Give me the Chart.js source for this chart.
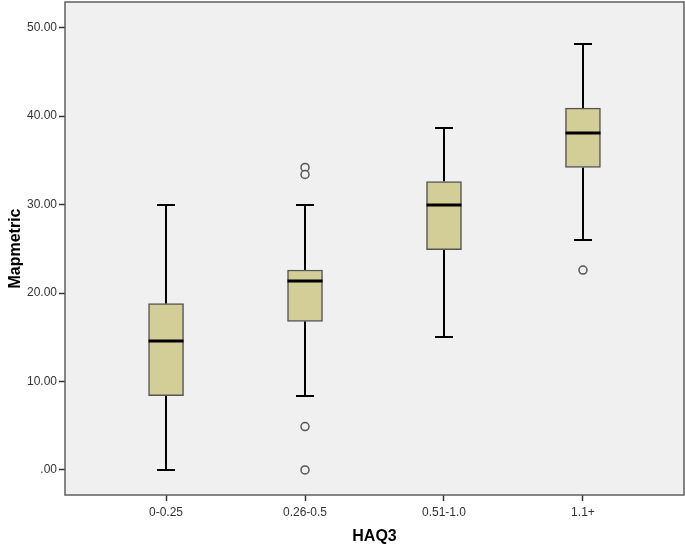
<!DOCTYPE html>
<html>
<head>
<meta charset="utf-8">
<script src="https://cdn.jsdelivr.net/npm/chart.js@4.4.0/dist/chart.umd.min.js"></script>
<style>
  html, body { margin: 0; padding: 0; background: #fff; }
  #wrap { width: 685px; height: 546px; }
</style>
</head>
<body>
<div id="wrap"><canvas id="box-chart" width="685" height="546"></canvas></div>
<script>
// Box plot data
const categories = ['0-0.25', '0.26-0.5', '0.51-1.0', '1.1+'];
const whiskerLow = [0.0, 8.4, 15.0, 26.0];
const q1 = [8.4, 16.8, 24.9, 34.2];
const median = [14.6, 21.4, 30.0, 38.1];
const q3 = [18.8, 22.6, 32.6, 40.9];
const whiskerHigh = [30.0, 30.0, 38.7, 48.2];
const outlierGroup = [1, 1, 1, 1, 3];
const outlierValue = [34.2, 33.4, 4.9, 0.0, 22.6];
const yTicks = [0, 10, 20, 30, 40, 50];

// Draws plot background/frame and the whisker + median lines
const boxPlotPlugin = {
    id: 'boxPlotPlugin',
    beforeDatasetsDraw(chart) {
        const { ctx, chartArea } = chart;
        ctx.save();
        ctx.fillStyle = '#f0f0f0';
        ctx.fillRect(chartArea.left, chartArea.top, chartArea.width, chartArea.height);
        ctx.restore();

        const x = chart.scales.x;
        const y = chart.scales.y;
        ctx.save();
        ctx.strokeStyle = '#000';
        ctx.lineWidth = 2;
        categories.forEach((c, i) => {
            const px = Math.round(x.getPixelForValue(i));
            const capHalf = 9;
            [[whiskerLow[i], q1[i]], [q3[i], whiskerHigh[i]]].forEach(([a, b]) => {
                ctx.beginPath();
                ctx.moveTo(px, y.getPixelForValue(a));
                ctx.lineTo(px, y.getPixelForValue(b));
                ctx.stroke();
            });
            [whiskerLow[i], whiskerHigh[i]].forEach(v => {
                const py = Math.round(y.getPixelForValue(v));
                ctx.beginPath();
                ctx.moveTo(px - capHalf, py);
                ctx.lineTo(px + capHalf, py);
                ctx.stroke();
            });
        });
        ctx.restore();
    },
    afterDatasetsDraw(chart) {
        const { ctx, chartArea } = chart;
        const x = chart.scales.x;
        const y = chart.scales.y;
        ctx.save();
        ctx.strokeStyle = '#000';
        ctx.lineWidth = 3;
        categories.forEach((c, i) => {
            const px = x.getPixelForValue(i);
            const py = Math.round(y.getPixelForValue(median[i]));
            ctx.beginPath();
            ctx.moveTo(px - 17.5, py);
            ctx.lineTo(px + 17.5, py);
            ctx.stroke();
        });
        ctx.strokeStyle = '#5f5f5f';
        ctx.lineWidth = 1.5;
        ctx.strokeRect(chartArea.left, chartArea.top, chartArea.width, chartArea.height);
        ctx.restore();
    }
};

function loadBoxChart() {
    const ctx = document.getElementById('box-chart').getContext('2d');
    new Chart(ctx, {
        data: {
            datasets: [
                {
                    type: 'bar',
                    data: categories.map((c, i) => ({ x: i, y: [q1[i], q3[i]] })),
                    backgroundColor: '#d3ce97',
                    borderColor: '#555',
                    borderWidth: 1.5,
                    borderSkipped: false,
                    barThickness: 35,
                    order: 2
                },
                {
                    type: 'scatter',
                    data: outlierGroup.map((g, i) => ({ x: g, y: outlierValue[i] })),
                    pointStyle: 'circle',
                    pointRadius: 4,
                    backgroundColor: '#f0f0f0',
                    borderColor: '#555',
                    borderWidth: 1.5,
                    order: 1
                }
            ]
        },
        options: {
            responsive: false,
            animation: false,
            layout: { autoPadding: false, padding: { top: 2, right: 1, left: 0, bottom: 0 } },
            plugins: { legend: { display: false }, tooltip: { enabled: false } },
            scales: {
                x: {
                    type: 'linear',
                    offset: false,
                    min: -0.727,
                    max: 3.727,
                    afterBuildTicks: s => { s.ticks = categories.map((c, i) => ({ value: i })); },
                    afterFit: s => { s.height = 51; s.paddingLeft = 0; s.paddingRight = 0; },
                    grid: { offset: false, drawOnChartArea: false, color: '#333', tickLength: 6, tickWidth: 1.5 },
                    border: { display: false },
                    ticks: {
                        callback: v => categories[v],
                        color: '#333',
                        font: { family: 'Liberation Sans, Arial', size: 12 },
                        padding: 4,
                        maxRotation: 0
                    },
                    title: {
                        display: true,
                        text: 'HAQ3',
                        color: '#000',
                        font: { family: 'Liberation Sans, Arial', size: 16, weight: 'bold' },
                        padding: { top: 9, bottom: 0 }
                    }
                },
                y: {
                    type: 'linear',
                    min: -2.83,
                    max: 52.9,
                    afterBuildTicks: s => { s.ticks = yTicks.map(v => ({ value: v })); },
                    afterFit: s => { s.width = 65; s.paddingTop = 0; s.paddingBottom = 0; },
                    grid: { drawOnChartArea: false, color: '#333', tickLength: 6, tickWidth: 1.5 },
                    border: { display: false },
                    ticks: {
                        callback: v => v === 0 ? '.00' : v.toFixed(2),
                        color: '#333',
                        font: { family: 'Liberation Sans, Arial', size: 12 },
                        padding: 2
                    },
                    title: {
                        display: true,
                        text: 'Mapmetric',
                        color: '#000',
                        font: { family: 'Liberation Sans, Arial', size: 16, weight: 'bold' },
                        padding: { top: 6, bottom: 0 }
                    }
                }
            }
        },
        plugins: [boxPlotPlugin]
    });
}

loadBoxChart();
</script>
</body>
</html>
